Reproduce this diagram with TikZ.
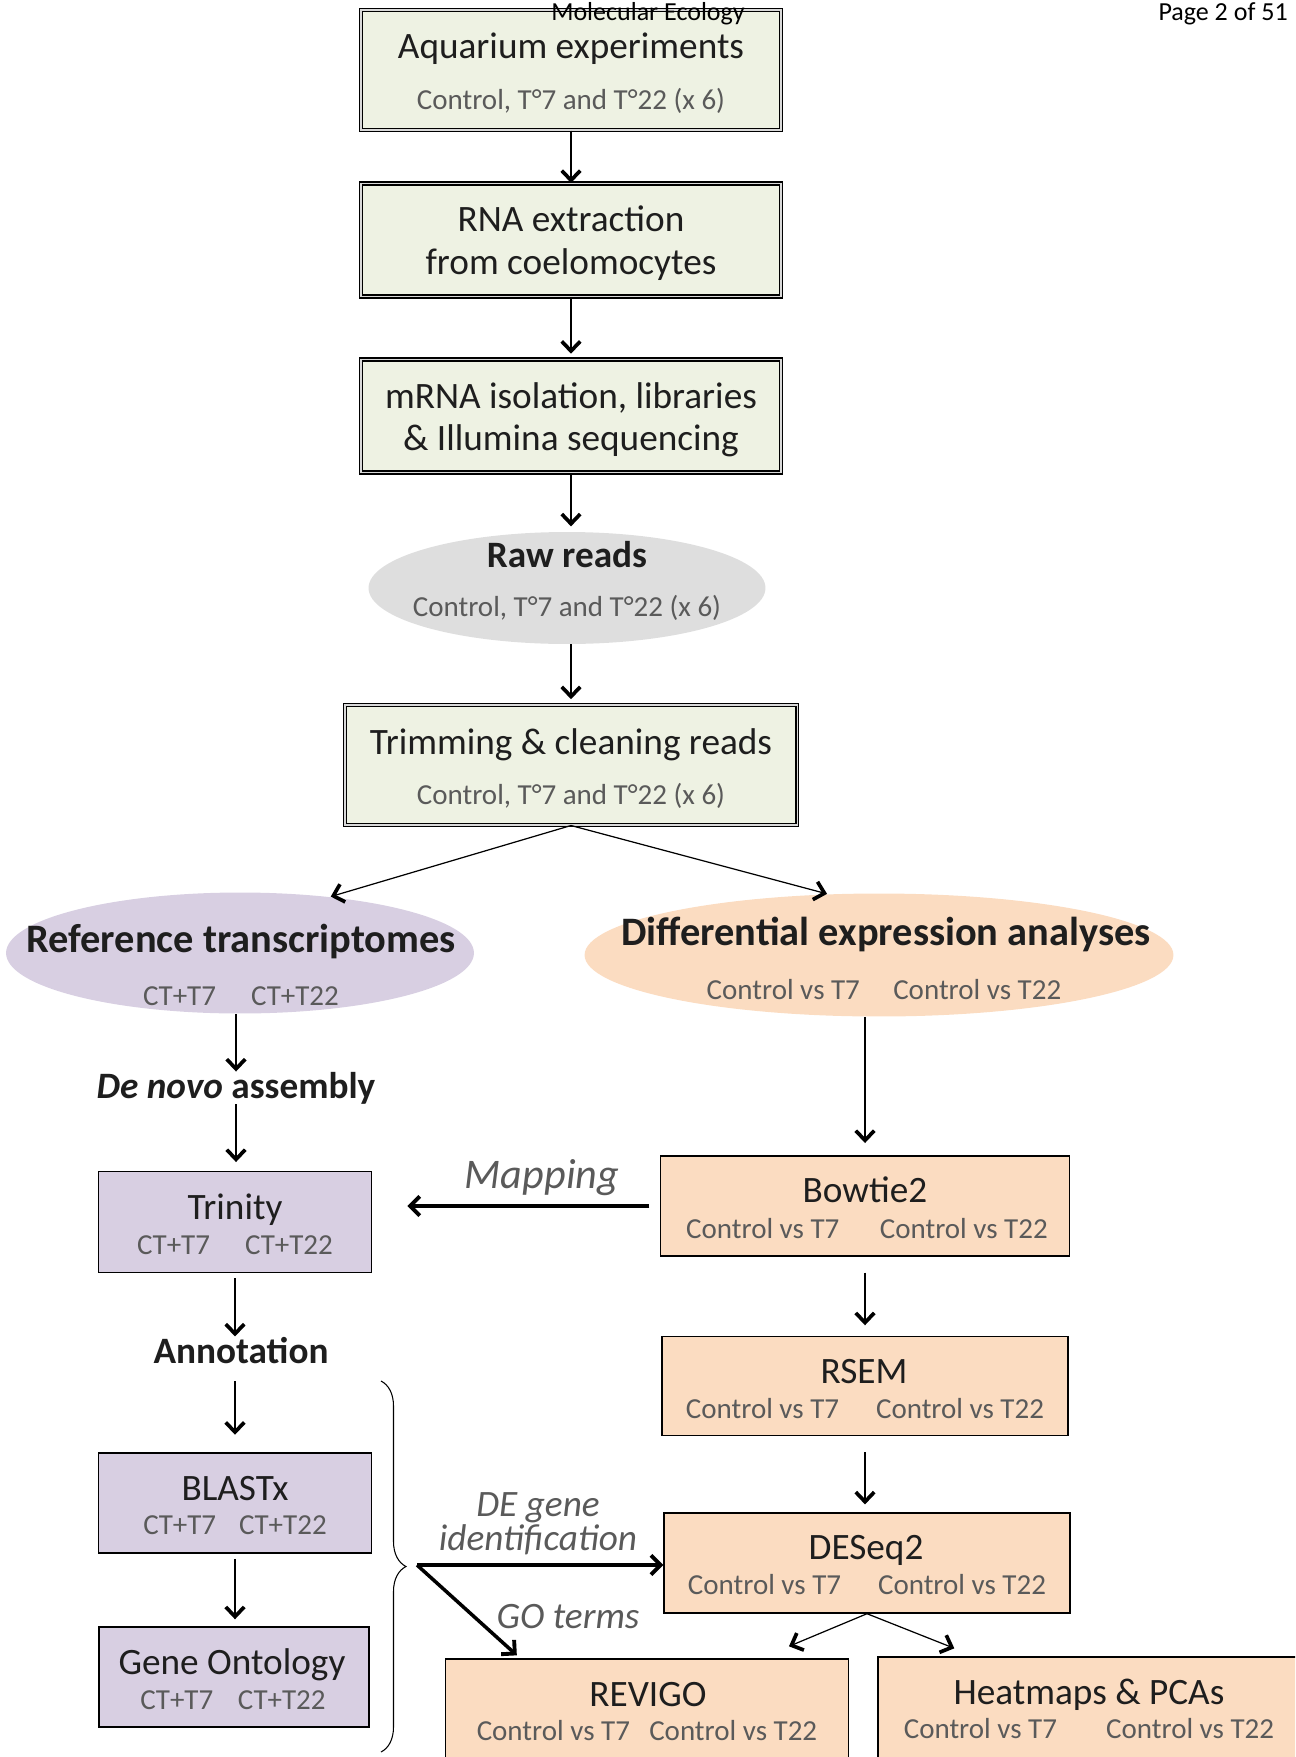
\documentclass[tikz,border=0pt]{standalone}
\usepackage{fontspec}
\setmainfont{Carlito}
\usetikzlibrary{arrows.meta,shapes.geometric,decorations.pathreplacing}

\definecolor{boxgreen}{HTML}{EEF2E3}
\definecolor{boxlilac}{HTML}{D8CFE2}
\definecolor{boxpeach}{HTML}{FBDCC1}
\definecolor{ovalgrey}{HTML}{DEDEDE}
\definecolor{inkdark}{HTML}{1E1E1E}
\definecolor{inkgrey}{HTML}{5A5A5A}

\newcommand\headsize{\fontsize{21.2}{25}\selectfont}
\newcommand\ovalsize{\fontsize{23}{27}\selectfont}
\newcommand\subsize{\fontsize{16.5}{20}\selectfont}
\newcommand\notesize{\fontsize{24}{28}\selectfont}
\newcommand\pagesize{\fontsize{14.8}{18}\selectfont}

\tikzset{
	greenbox/.style={rectangle, draw=black, line width=0.6pt, double=black!15, double distance=1.1pt, fill=boxgreen, inner sep=0pt},
	lilacbox/.style={rectangle, draw=black, line width=0.8pt, fill=boxlilac, inner sep=0pt},
	peachbox/.style={rectangle, draw=black, line width=0.8pt, fill=boxpeach, inner sep=0pt},
	greyoval/.style={ellipse, fill=ovalgrey, inner sep=0pt},
	lilacoval/.style={ellipse, fill=boxlilac, inner sep=0pt},
	peachoval/.style={ellipse, fill=boxpeach, inner sep=0pt},
	headtxt/.style={anchor=base, font=\headsize, text=inkdark, inner sep=0pt},
	boldtxt/.style={anchor=base, font=\headsize\bfseries, text=inkdark, inner sep=0pt},
	subtxt/.style={anchor=base, font=\subsize, text=inkgrey, inner sep=0pt},
	notetxt/.style={anchor=base, font=\headsize\itshape, text=inkgrey, inner sep=0pt},
	pagetxt/.style={anchor=base, font=\pagesize, text=black, inner sep=0pt},
	flow/.style={line width=0.7pt, -{Straight Barb[length=5.5pt, width=10.5pt, line width=2.1pt]}},
	boldflow/.style={line width=2pt, -{Straight Barb[length=5.5pt, width=11pt, line width=2.2pt]}}
}

\begin{document}
\begin{tikzpicture}[x=0.02cm, y=-0.02cm]
			%%%%% START %%%%%
			\useasboundingbox (0, 0) rectangle (1295, 1757);
			\clip (0, 0) rectangle (1295, 1757);
			
			\node[greenbox, minimum width=8.4cm, minimum height=2.4cm] (aquarium) at (571, 70) {};
			\node[headtxt] (aquarium-t) at (571, 59) {Aquarium experiments};
			\node[subtxt] (aquarium-s) at (571, 110) {Control, T°7 and T°22 (x 6)};
			
			\node[greenbox, minimum width=8.4cm, minimum height=2.26cm] (rna) at (571, 240) {};
			\node[headtxt] (rna-t) at (571, 232) {RNA extraction};
			\node[headtxt] (rna-s) at (571, 275) {from coelomocytes};
			
			\node[greenbox, minimum width=8.4cm, minimum height=2.26cm] (mrna) at (571, 416) {};
			\node[headtxt] (mrna-t) at (571, 408) {mRNA isolation, libraries};
			\node[headtxt] (mrna-s) at (571, 450) {\& Illumina sequencing};
			
			\node[greyoval, minimum width=7.94cm, minimum height=2.24cm] (raw) at (567, 588) {};
			\node[boldtxt] (raw-t) at (567, 567) {Raw reads};
			\node[subtxt] (raw-s) at (567, 616) {Control, T°7 and T°22 (x 6)};
			
			\node[greenbox, minimum width=9.06cm, minimum height=2.4cm] (trim) at (571, 765) {};
			\node[headtxt] (trim-t) at (571, 754) {Trimming \& cleaning reads};
			\node[subtxt] (trim-s) at (571, 804) {Control, T°7 and T°22 (x 6)};
			
			\draw[flow] (aquarium.south) -- (rna.north);
			\draw[flow, shorten >=3pt] (rna.south) -- (mrna.north);
			\draw[flow, shorten >=3pt] (mrna.south) -- (mrna.south |- raw.north);
			\draw[flow, shorten >=3pt] (raw.south -| trim.north) -- (trim.north);
			
			% left branch
			\node[lilacoval, minimum width=9.36cm, minimum height=2.42cm] (ref) at (240, 953) {};
			\node[boldtxt, font=\ovalsize\bfseries] (ref-t) at (241, 952) {Reference transcriptomes};
			\node[subtxt] (ref-s) at (241, 1005) {CT+T7\hspace{20pt}CT+T22};
			
			\node[boldtxt] (denovo) at (236, 1098) {\textit{De novo} assembly};
			
			\node[lilacbox, minimum width=5.46cm, minimum height=2.02cm] (trinity) at (235, 1222) {};
			\node[headtxt] (trinity-t) at (235, 1219) {Trinity};
			\node[subtxt] (trinity-s) at (235, 1254) {CT+T7\hspace{20pt}CT+T22};
			
			\node[boldtxt] (annot) at (241, 1363) {Annotation};
			
			\node[lilacbox, minimum width=5.46cm, minimum height=2cm] (blastx) at (235, 1503) {};
			\node[headtxt] (blastx-t) at (235, 1500) {BLASTx};
			\node[subtxt] (blastx-s) at (235, 1534) {CT+T7\hspace{13pt}CT+T22};
			
			\node[lilacbox, minimum width=5.4cm, minimum height=2cm] (go) at (234, 1677) {};
			\node[headtxt] (go-t) at (232, 1674) {Gene Ontology};
			\node[subtxt] (go-s) at (233, 1709) {CT+T7\hspace{14pt}CT+T22};
			
			\draw[flow, shorten >=0.5pt] (trim.south) -- (ref.32);
			\draw[flow] (ref.south -| denovo.north) -- (denovo.north);
			\draw[flow, shorten >=5pt] (denovo.south) -- (denovo.south |- trinity.north);
			\draw[flow, shorten <=3pt] (trinity.south) -- (trinity.south |- annot.north);
			\draw[flow, shorten <=10pt, shorten >=10pt] (annot.south -| blastx.north) -- (blastx.north);
			\draw[flow, shorten <=3pt, shorten >=4pt] (blastx.south) -- (blastx.south |- go.north);
			
			\draw[line width=0.6pt, decorate, decoration={brace, amplitude=0.5cm}] (381, 1381) -- (381, 1752);
			\coordinate (hub) at (417, 1565);
			
			% right branch
			\node[peachoval, minimum width=11.78cm, minimum height=2.46cm] (dea) at (879, 955) {};
			\node[boldtxt, font=\ovalsize\bfseries] (dea-t) at (886, 945) {Differential expression analyses};
			\node[subtxt] (dea-s) at (884, 999) {Control vs T7\hspace{19pt}Control vs T22};
			
			\node[peachbox, minimum width=8.18cm, minimum height=2cm] (bowtie) at (865, 1206) {};
			\node[headtxt] (bowtie-t) at (865, 1202) {Bowtie2};
			\node[subtxt] (bowtie-s) at (867, 1238) {Control vs T7\hspace{23pt}Control vs T22};
			
			\node[peachbox, minimum width=8.12cm, minimum height=1.98cm] (rsem) at (865, 1386) {};
			\node[headtxt] (rsem-t) at (864, 1383) {RSEM};
			\node[subtxt] (rsem-s) at (865, 1418) {Control vs T7\hspace{21pt}Control vs T22};
			
			\node[peachbox, minimum width=8.12cm, minimum height=2cm] (deseq) at (867, 1563) {};
			\node[headtxt] (deseq-t) at (866, 1559) {DESeq2};
			\node[subtxt] (deseq-s) at (867, 1594) {Control vs T7\hspace{21pt}Control vs T22};
			
			\node[peachbox, minimum width=8.06cm, minimum height=3cm] (revigo) at (647, 1734) {};
			\node[headtxt] (revigo-t) at (648, 1706) {REVIGO};
			\node[subtxt] (revigo-s) at (647, 1740) {Control vs T7\hspace{11pt}Control vs T22};
			
			\node[peachbox, minimum width=8.84cm, minimum height=3cm] (heatmaps) at (1099, 1732) {};
			\node[headtxt] (heatmaps-t) at (1089, 1704) {Heatmaps \& PCAs};
			\node[subtxt] (heatmaps-s) at (1089, 1738) {Control vs T7\hspace{28pt}Control vs T22};
			
			\draw[flow, shorten >=0.5pt] (trim.south) -- (dea.130);
			\draw[flow, shorten >=7pt] (dea.south -| bowtie.north) -- (bowtie.north);
			\draw[flow, shorten <=9pt, shorten >=6pt] (bowtie.south) -- (bowtie.south |- rsem.north);
			\draw[flow, shorten <=9pt, shorten >=4.5pt] (rsem.south) -- (rsem.south |- deseq.north);
			\draw[flow] (deseq.south) -- ([xshift=2.84cm, yshift=0.24cm]revigo.north);
			\draw[flow] (deseq.south) -- ([xshift=1.54cm, yshift=0.16cm]heatmaps.north west);
			
			% links between branches
			\draw[boldflow, shorten <=6pt, shorten >=20pt] (bowtie.west) -- (bowtie.west -| trinity.east);
			\node[notetxt, font=\notesize\itshape] (mapping) at (542, 1188) {Mapping};
			
			\draw[boldflow] (hub) -- (hub -| deseq.west);
			\draw[boldflow] (hub) -- ([xshift=1.44cm, yshift=0.06cm]revigo.north west);
			\node[notetxt] (degene) at (538, 1516) {DE gene};
			\node[notetxt] (ident) at (538, 1550) {identification};
			\node[notetxt] (goterms) at (568, 1628) {GO terms};
			
			\node[pagetxt] (journal) at (648, 21) {Molecular Ecology};
			\node[pagetxt, anchor=base east] (pageno) at (1288, 21) {Page 2 of 51};
			%%%%% END %%%%%
\end{tikzpicture}
\end{document}
